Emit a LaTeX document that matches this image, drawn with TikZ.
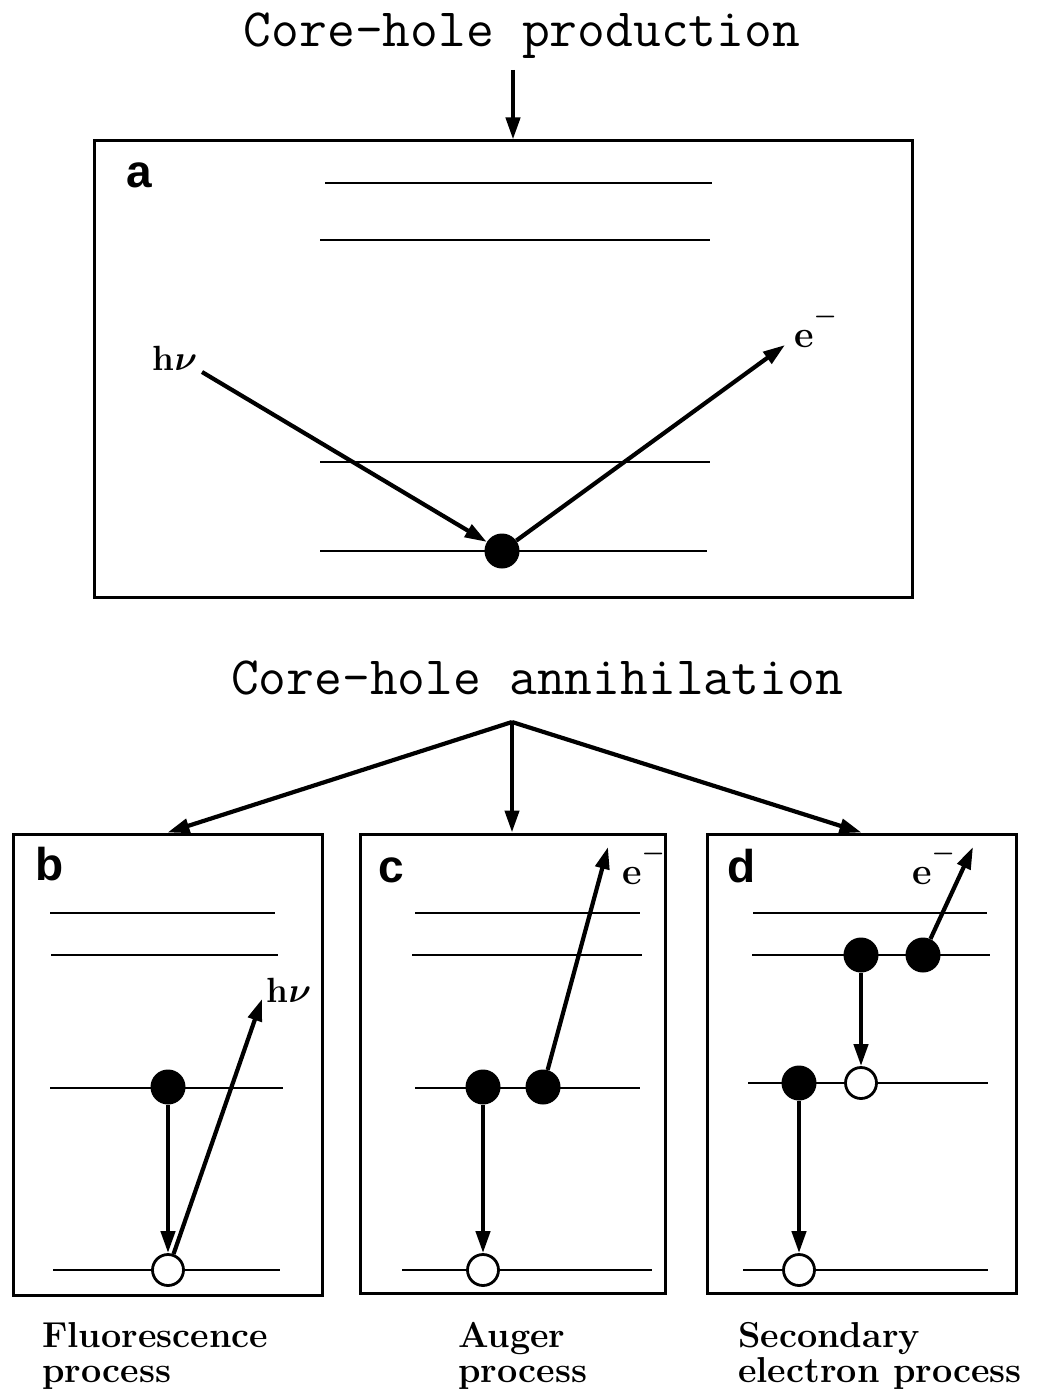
\documentclass[tikz,border=0pt]{standalone}
\usepackage{fix-cm}
\usepackage{fontspec}
\usepackage{bm}
\usetikzlibrary{arrows.meta}
\newfontfamily\lblfont{Liberation Sans}
\tikzset{
  lvl/.style={line width=2.9pt},
  boxfr/.style={draw, line width=3pt, inner sep=0pt},
  arr/.style={line width=4.2pt, -{Triangle[length=22pt,width=14pt]}},
  fulldot/.style={circle, fill=black, inner sep=0pt, minimum size=35pt},
  holedot/.style={circle, draw, line width=2.8pt, fill=white, inner sep=0pt, minimum size=31pt},
  ttl/.style={font=\ttfamily\fontsize{54}{54}\selectfont, inner sep=0pt, anchor=base},
  boxlbl/.style={font=\lblfont\bfseries\fontsize{46}{46}\selectfont, inner sep=0pt, anchor=base},
  hnulbl/.style={font=\bfseries\fontsize{35}{35}\selectfont, inner sep=0pt, anchor=base},
  elbl/.style={font=\bfseries\fontsize{38}{38}\selectfont, inner sep=0pt, anchor=base west},
  captxt/.style={font=\bfseries\fontsize{36}{35}\selectfont, inner sep=0pt, anchor=north west, align=left}
}
\newcommand{\elec}{e\raisebox{0.62em}{\fontsize{26}{26}\selectfont$\bm{-}$}}
\newcommand{\hnutext}{h$\bm{\nu}$}
\begin{document}
\begin{tikzpicture}[x=1pt,y=-1pt]
\useasboundingbox (0,0) rectangle (1045,1391);

% ---------- top panel ----------
\node[ttl] (t1) at (522,47) {Core\textendash hole production};
\coordinate (t1s) at (513,70);
\node[boxfr, minimum width=818pt, minimum height=456pt] (boxa) at (503,369) {};
\draw[arr] (t1s) -- (t1s |- boxa.north);
\node[boxlbl] (la) at (139,188) {a};

\draw[lvl] (325,183) -- (712,183);
\draw[lvl] (320,240) -- (710,240);
\draw[lvl] (320,462) -- (710,462);
\draw[lvl] (320,551) -- (707,551);

\node[fulldot] (dA) at (502,551) {};
\node[hnulbl] (hA) at (175,370) {\hnutext};
\coordinate (hAs) at (202,372);
\coordinate (eAt) at (785,345);
\node[elbl] (eA) at (794,347) {\elec};
\draw[arr] (hAs) -- (dA);
\draw[arr] (dA) -- (eAt);

% ---------- annihilation ----------
\node[ttl] (t2) at (537,694) {Core\textendash hole annihilation};
\coordinate (apex) at (512,722);

\node[boxfr, minimum width=309pt, minimum height=461pt] (boxb) at (167.5,1064.5) {};
\node[boxfr, minimum width=305pt, minimum height=459pt] (boxc) at (512.5,1063.5) {};
\node[boxfr, minimum width=309pt, minimum height=459pt] (boxd) at (861.5,1063.5) {};

\draw[arr] (apex) -- (boxb.north);
\draw[arr] (apex) -- (apex |- boxc.north);
\draw[arr] (apex) -- (boxd.north);

% ---------- box b ----------
\node[boxlbl] (lb) at (50,880) {b};
\draw[lvl] (50,913) -- (275,913);
\draw[lvl] (51,955) -- (278,955);
\draw[lvl] (50,1088) -- (283,1088);
\draw[lvl] (53,1270) -- (280,1270);
\node[fulldot] (B1) at (168,1087) {};
\node[holedot] (B0) at (168,1270) {};
\draw[arr] (B1) -- (B0);
\coordinate (hBt) at (262,999);
\draw[arr] (B0) -- (hBt);
\node[hnulbl] (hB) at (289,1002) {\hnutext};

% ---------- box c ----------
\node[boxlbl] (lc) at (391,882) {c};
\draw[lvl] (415,913) -- (640,913);
\draw[lvl] (412,955) -- (642,955);
\draw[lvl] (415,1088) -- (640,1088);
\draw[lvl] (402,1270) -- (652,1270);
\node[fulldot] (C1) at (483,1087) {};
\node[fulldot] (C2) at (543,1087) {};
\node[holedot] (C0) at (483,1270) {};
\draw[arr] (C1) -- (C0);
\coordinate (eCt) at (608,847);
\draw[arr] (C2) -- (eCt);
\node[elbl] (eC) at (622,884) {\elec};

% ---------- box d ----------
\node[boxlbl] (ld) at (742,882) {d};
\draw[lvl] (753,913) -- (987,913);
\draw[lvl] (752,955) -- (990,955);
\draw[lvl] (748,1083) -- (988,1083);
\draw[lvl] (743,1270) -- (988,1270);
\node[fulldot] (D1) at (861,955) {};
\node[fulldot] (D2) at (923,955) {};
\node[holedot] (D3) at (861,1083) {};
\node[fulldot] (D4) at (799,1083) {};
\node[holedot] (D0) at (799,1270) {};
\draw[arr] (D1) -- (D3);
\draw[arr] (D4) -- (D0);
\coordinate (eDt) at (973,847);
\draw[arr] (D2) -- (eDt);
\node[elbl] (eD) at (912,884) {\elec};

% ---------- captions ----------
\node[captxt] (capb) at (42,1322) {Fluorescence\\process};
\node[captxt] (capc) at (458,1322) {Auger\\process};
\node[captxt] (capd) at (738,1322) {Secondary\\electron process};
\end{tikzpicture}
\end{document}
